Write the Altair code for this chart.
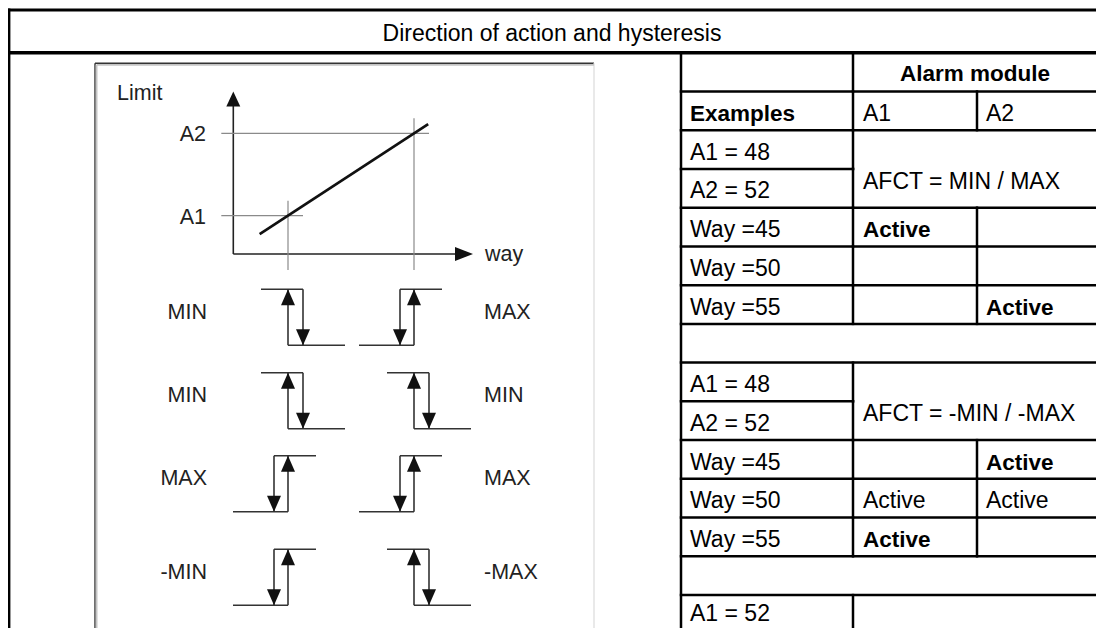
import altair as alt
import pandas as pd

# ---------------- data ----------------
TITLE = "Direction of action and hysteresis"
GROUP_HEADER = "Alarm module"
ROW_LABELS = ["", "Examples", "A1 = 48", "A2 = 52", "Way =45", "Way =50", "Way =55", "",
              "A1 = 48", "A2 = 52", "Way =45", "Way =50", "Way =55", "", "A1 = 52"]
A1_CELLS = ["", "A1", "", "", "Active", "", "", "", "", "", "", "Active", "Active", "", ""]
A2_CELLS = ["", "A2", "", "", "", "", "Active", "", "", "", "Active", "Active", "", "", ""]
BOLD_CELLS = [(1, 0), (4, 1), (6, 2), (10, 2), (12, 1)]
AFCT_TEXT = ["AFCT = MIN / MAX", "AFCT = -MIN / -MAX"]
AFCT_ROWS = [2, 8]
ROW_KIND = ["header", "full", "merge", "merge", "full", "full", "full", "blank",
            "merge", "merge", "full", "full", "full", "blank", "merge"]

AXIS_TITLES = ["Limit", "way"]
LIMIT_NAMES = ["A1", "A2"]
LIMIT_VALUES = [48, 52]
CHAR_WAY = [47.1, 52.45]          # characteristic: Limit = way
LEFT_LABELS = ["MIN", "MIN", "MAX", "-MIN"]
RIGHT_LABELS = ["MAX", "MIN", "MAX", "-MAX"]
LEFT_FALLING = [True, True, False, False]
RIGHT_FALLING = [False, True, False, True]

# ---------------- layout ----------------
PAGE = 8
W, H = 1088, 620
FONT = "Liberation Sans"

TX = [681, 853, 977, 1104]
TY0, RH = 52.7, 38.74
def ry(i):
    return TY0 + i * RH

FIG_L, FIG_T, FIG_R = 95, 63.3, 594
AX_X, AX_Y = 233.3, 254
def fx(way):
    return 288 + (way - 48) * 31.5
def fy(lim):
    return 215.7 - (lim - 48) * 20.6
SYM_TOP = [289.3, 372.7, 455.7, 549.3]
SYM_H = 56

xs = alt.Scale(domain=[PAGE, PAGE + W], nice=False, zero=False)
ys = alt.Scale(domain=[PAGE, PAGE + H], nice=False, zero=False, reverse=True)

segs = {"border": [], "title": [], "table": [], "box": [], "boxlight": [], "boxshadow": [],
        "axis": [], "guide": [], "char": [], "hyst": []}
pts = {"up": [], "down": [], "right": [], "yup": []}
txt = []  # (x, y, text, align, size, weight, color)

# outer frame + title
segs["border"] += [(9, 10, 9, 640), (9, 10, 1110, 10)]
segs["title"] += [(9, 52.7, 1110, 52.7)]
txt.append((552, 40.5, TITLE, "center", 23, "normal", "#000"))

# table grid
segs["table"].append((TX[0], TY0, TX[0], 640))
for i, kind in enumerate(ROW_KIND):
    top, bot = ry(i), ry(i + 1)
    if kind in ("header", "full", "merge"):
        segs["table"].append((TX[1], top, TX[1], bot))
    if kind == "full":
        segs["table"].append((TX[2], top, TX[2], bot))
    if i >= 1:
        same_block = kind == "merge" and ROW_KIND[i - 1] == "merge" and (i - 1) in AFCT_ROWS
        segs["table"].append((TX[0], top, TX[1] if same_block else 1110, top))

# table text
cols = [ROW_LABELS, A1_CELLS, A2_CELLS]
pad = [9, 10, 9]
last = len(ROW_KIND) - 1
for i in range(len(ROW_KIND)):
    for c in range(3):
        t = cols[c][i]
        if t:
            w = "bold" if (i, c) in BOLD_CELLS else "normal"
            base = ry(i) + (26 if i == last else 29.5)
            txt.append((TX[c] + pad[c], base, t, "left", 22.5 if w == "bold" else 23, w, "#000"))
txt.append((975, ry(0) + 28.5, GROUP_HEADER, "center", 22.5, "bold", "#000"))
for r, t in zip(AFCT_ROWS, AFCT_TEXT):
    txt.append((TX[1] + 10, ry(r + 1) + 20, t, "left", 23, "normal", "#000"))

# figure box
segs["box"] += [(FIG_L, FIG_T, FIG_L, 640), (FIG_L, FIG_T, FIG_R, FIG_T)]
segs["boxshadow"] += [(FIG_L + 1.6, FIG_T + 1.6, FIG_L + 1.6, 640), (FIG_L + 1.6, FIG_T + 1.6, FIG_R, FIG_T + 1.6)]
segs["boxlight"] += [(FIG_R, FIG_T, FIG_R, 640)]

# limit diagram
segs["axis"] += [(AX_X, AX_Y, AX_X, 100), (AX_X, AX_Y, 462, AX_Y)]
pts["yup"].append((AX_X, 99))
pts["right"].append((464, AX_Y))
txt.append((117, 99.5, AXIS_TITLES[0], "left", 21.5, "normal", "#222"))
txt.append((485, 261, AXIS_TITLES[1], "left", 21.5, "normal", "#222"))
for name, v in zip(LIMIT_NAMES, LIMIT_VALUES):
    segs["guide"].append((AX_X - 12, fy(v), fx(v) + 15, fy(v)))
    segs["guide"].append((fx(v), fy(v) - 15, fx(v), AX_Y + 16))
    txt.append((206, fy(v) + 8, name, "right", 21.5, "normal", "#222"))
segs["char"].append((fx(CHAR_WAY[0]), fy(CHAR_WAY[0]), fx(CHAR_WAY[1]), fy(CHAR_WAY[1])))

# hysteresis symbols
def symbol(t, top, falling):
    bot = top + SYM_H
    if falling:
        segs["hyst"] += [(t - 27, top, t + 15, top), (t, top, t, bot), (t + 15, top, t + 15, bot), (t, bot, t + 57, bot)]
        pts["up"].append((t, top + 8))
        pts["down"].append((t + 15, bot - 8))
    else:
        segs["hyst"] += [(t - 14, top, t + 28, top), (t - 14, top, t - 14, bot), (t, top, t, bot), (t - 55, bot, t, bot)]
        pts["up"].append((t, top + 8))
        pts["down"].append((t - 14, bot - 8))

for r, top in enumerate(SYM_TOP):
    symbol(fx(LIMIT_VALUES[0]), top, LEFT_FALLING[r])
    symbol(fx(LIMIT_VALUES[1]), top, RIGHT_FALLING[r])
    txt.append((207, top + 22 + 7.7, LEFT_LABELS[r], "right", 21.5, "normal", "#222"))
    txt.append((484, top + 22 + 7.7, RIGHT_LABELS[r], "left", 21.5, "normal", "#222"))

# ---------------- chart ----------------
STYLE = {"border": ("#000", 2.8), "title": ("#000", 3.4), "table": ("#000", 2.5),
         "box": ("#333", 1.4), "boxshadow": ("#c4c4c4", 1.8), "boxlight": ("#e2e2e2", 1.5),
         "axis": ("#222", 1.6), "guide": ("#8a8a8a", 1.2), "char": ("#111", 2.7), "hyst": ("#333", 1.6)}

layers = []
for k, lst in segs.items():
    df = pd.DataFrame(lst, columns=["x", "y", "x2", "y2"])
    col, wd = STYLE[k]
    layers.append(alt.Chart(df).mark_rule(color=col, strokeWidth=wd, strokeCap="square" if k in ("table", "border", "title") else "butt").encode(
        x=alt.X("x:Q", scale=xs, axis=None), y=alt.Y("y:Q", scale=ys, axis=None),
        x2="x2:Q", y2="y2:Q"))

SHAPES = {"up": ("M0,-1L0.875,1L-0.875,1Z", 256), "down": ("M0,1L0.875,-1L-0.875,-1Z", 256),
          "right": ("M1,0L-1,0.78L-1,-0.78Z", 324), "yup": ("M0,-1L0.93,1L-0.93,1Z", 225)}
for k, lst in pts.items():
    df = pd.DataFrame(lst, columns=["x", "y"])
    shp, sz = SHAPES[k]
    layers.append(alt.Chart(df).mark_point(shape=shp, size=sz, filled=True, color="#111", opacity=1, strokeWidth=0).encode(
        x=alt.X("x:Q", scale=xs, axis=None), y=alt.Y("y:Q", scale=ys, axis=None)))

tdf = pd.DataFrame(txt, columns=["x", "y", "t", "align", "size", "weight", "color"])
for (al, sz, wt, colr), g in tdf.groupby(["align", "size", "weight", "color"]):
    layers.append(alt.Chart(g[["x", "y", "t"]]).mark_text(
        align=al, baseline="alphabetic", font=FONT, fontSize=float(sz), fontWeight=wt, color=colr).encode(
        x=alt.X("x:Q", scale=xs, axis=None), y=alt.Y("y:Q", scale=ys, axis=None), text="t:N"))

chart = alt.layer(*layers).properties(
    width=W, height=H, padding=0, background="white",
    autosize=alt.AutoSizeParams(type="none")
).configure_view(strokeWidth=0)

chart.save("out.html", embed_options={"renderer": "svg", "actions": False})
